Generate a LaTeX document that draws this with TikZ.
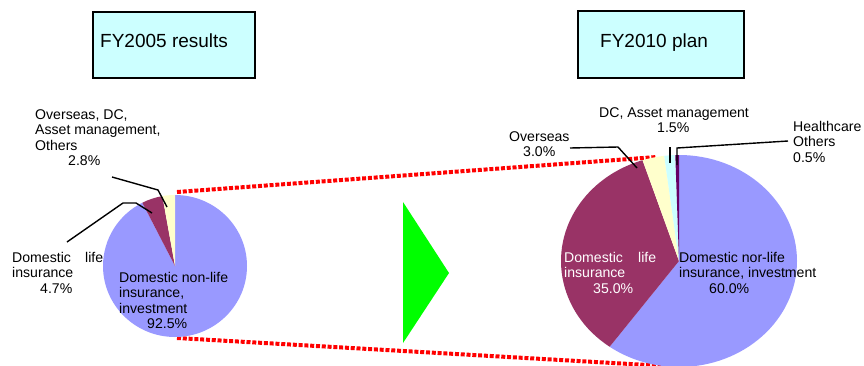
\documentclass[tikz,border=0pt]{standalone}
\usepackage{fontspec}
\setmainfont{Liberation Sans}
\definecolor{nonlife}{HTML}{9999FF}
\definecolor{lifec}{HTML}{993366}
\definecolor{ovs}{HTML}{FFFFCC}
\definecolor{dcc}{HTML}{CCFFFF}
\definecolor{hcc}{HTML}{660066}
\definecolor{boxcyan}{HTML}{CCFFFF}
\definecolor{arrowgreen}{HTML}{00FF00}
\begin{document}
\begin{tikzpicture}[x=1pt,y=-1pt,
  lbl/.style={anchor=base west, inner sep=0pt, font=\fontsize{14.1}{15.5}\selectfont},
  ttl/.style={anchor=base west, inner sep=0pt, font=\fontsize{19}{22}\selectfont},
  tbox/.style={draw=black, line width=1.5pt, fill=boxcyan},
  leader/.style={draw=black, line width=1.4pt},
  reddots/.style={draw=red, line width=4pt, dash pattern=on 4pt off 1.8pt}]
\useasboundingbox (0,0) rectangle (864,365);
\fill[white] (0,0) rectangle (864,365);

% title boxes
\draw[tbox] (93,12) rectangle (255,78);
\node[ttl] (t1) at (100,47) {FY2005 results};
\draw[tbox] (578,11) rectangle (744,78);
\node[ttl] (t2) at (600,47) {FY2010 plan};

% red connecting lines
\coordinate (ua) at (177,192);
\coordinate (ub) at (657,157);
\coordinate (la) at (177,338);
\coordinate (lb) at (665,366);
\draw[reddots] (ua) -- (ub);
\draw[reddots] (la) -- (lb);

% green arrow
\fill[arrowgreen] (403,202) -- (449,273) -- (403,343) -- cycle;

% left pie
\coordinate (lc) at (175,266);
\fill[nonlife] (lc) -- +(-90:72 and 71) arc[start angle=-90, end angle=243, x radius=72, y radius=71] -- cycle;
\fill[lifec] (lc) -- +(243:72 and 71) arc[start angle=243, end angle=259.9, x radius=72, y radius=71] -- cycle;
\fill[ovs] (lc) -- +(259.9:72 and 71) arc[start angle=259.9, end angle=270, x radius=72, y radius=71] -- cycle;

% right pie
\coordinate (rc) at (679,261);
\fill[nonlife] (rc) -- +(-90:118 and 106) arc[start angle=-90, end angle=126, x radius=118, y radius=106] -- cycle;
\fill[lifec] (rc) -- +(126:118 and 106) arc[start angle=126, end angle=252, x radius=118, y radius=106] -- cycle;
\fill[ovs] (rc) -- +(252:118 and 106) arc[start angle=252, end angle=262.8, x radius=118, y radius=106] -- cycle;
\fill[dcc] (rc) -- +(262.8:118 and 106) arc[start angle=262.8, end angle=268.2, x radius=118, y radius=106] -- cycle;
\fill[hcc] (rc) -- +(268.2:118 and 106) arc[start angle=268.2, end angle=270, x radius=118, y radius=106] -- cycle;

% leader lines
\draw[leader] (112,177) -- (158,190) -- (167,207);
\draw[leader] (67,242) -- (123,203) -- (136,203) -- (152,213);
\draw[leader] (570,148) -- (618,147) -- (637,168);
\draw[leader] (670,147) -- (670,163);
\draw[leader] (788,141) -- (677,148) -- (677,165);

% left labels
\node[lbl] (lo1) at (35,119) {Overseas, DC,};
\node[lbl] (lo2) at (35,134.5) {Asset management,};
\node[lbl] (lo3) at (35,150) {Others};
\node[lbl] (lo4) at (68,165.5) {2.8\%};
\node[lbl] (ll1) at (12,262) {Domestic};
\node[lbl] (ll1b) at (85,262) {life};
\node[lbl] (ll2) at (12,277.5) {insurance};
\node[lbl] (ll3) at (40,293) {4.7\%};
\node[lbl] (ln1) at (119,282) {Domestic non-life};
\node[lbl] (ln2) at (119,297.5) {insurance,};
\node[lbl] (ln3) at (119,313) {investment};
\node[lbl] (ln4) at (147,328.5) {92.5\%};

% right labels
\node[lbl] (rd1) at (599,117) {DC, Asset management};
\node[lbl] (rd2) at (657,132.5) {1.5\%};
\node[lbl] (ro1) at (509,141) {Overseas};
\node[lbl] (ro2) at (523,156.5) {3.0\%};
\node[lbl] (rh1) at (793,131) {Healthcare};
\node[lbl] (rh2) at (793,146.5) {Others};
\node[lbl] (rh3) at (793,162) {0.5\%};
\node[lbl, text=white] (rl1) at (564,262) {Domestic};
\node[lbl, text=white] (rl1b) at (638,262) {life};
\node[lbl, text=white] (rl2) at (564,277.5) {insurance};
\node[lbl, text=white] (rl3) at (593,293) {35.0\%};
\node[lbl] (rn1) at (679,262) {Domestic nor-life};
\node[lbl] (rn2) at (679,277.5) {insurance, investment};
\node[lbl] (rn3) at (709,293) {60.0\%};
\end{tikzpicture}
\end{document}
